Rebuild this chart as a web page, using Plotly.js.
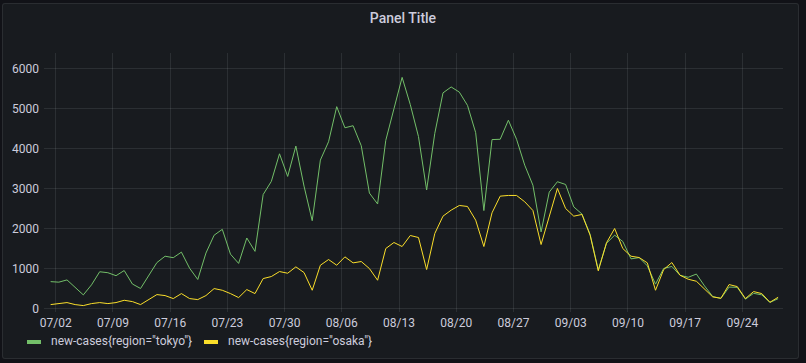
<!DOCTYPE html>
<html>
<head>
<meta charset="utf-8">
<script src="https://cdn.plot.ly/plotly-3.0.1.min.js"></script>
<style>
  html, body { margin: 0; padding: 0; background: #111217; width: 806px; height: 363px; overflow: hidden; }
  #panel { position: absolute; left: 2px; top: 3px; width: 795px; height: 354px; background: #181b1f;
           border: 1px solid rgba(204,204,220,0.10); border-radius: 3px; }
  #chart { position: absolute; left: 0; top: 0; width: 806px; height: 363px; }
</style>
</head>
<body>
<div id="panel"></div>
<div id="chart"></div>
<script>
// Data: daily new cases, 2021-07-01 .. 2021-09-28
const firstDay = [2021, 7, 1];
const tokyoName = 'new-cases{region="tokyo"}';
const osakaName = 'new-cases{region="osaka"}';
const tokyo = [
  673,660,716,518,342,593,920,896,822,950,614,502,830,1149,1308,1271,1410,1008,727,1387,1832,1979,1359,1128,1763,1429,2848,3177,3865,3300,4058,
  3058,2195,3709,4166,5042,4515,4566,4066,2884,2612,4200,4989,5773,5094,4295,2962,4377,5386,5534,5405,5074,4392,2447,4220,4228,4704,4227,3581,3081,1915,2909,
  3168,3099,2539,2362,1853,968,1629,1834,1675,1242,1273,1067,611,1004,1052,831,782,862,566,302,253,537,531,235,382,343,154,248
];
const osaka = [
  100,125,150,100,75,125,150,125,150,208,175,100,225,350,325,250,375,250,225,325,500,458,375,275,475,375,750,800,925,883,1042,
  900,458,1083,1225,1083,1292,1142,1175,1000,708,1500,1650,1550,1825,1775,975,1875,2308,2458,2575,2550,2208,1550,2392,2808,2825,2825,2667,2450,1600,2333,
  3000,2500,2308,2350,1833,942,1642,2000,1500,1308,1275,1142,458,975,1150,833,733,683,500,292,258,600,550,250,425,375,158,283
];
const yTicks = [0, 1000, 2000, 3000, 4000, 5000, 6000];

function pad(n) { return (n < 10 ? '0' : '') + n; }
const dates = tokyo.map((_, i) => {
  const d = new Date(Date.UTC(firstDay[0], firstDay[1] - 1, firstDay[2] + i));
  return d.getUTCFullYear() + '-' + pad(d.getUTCMonth() + 1) + '-' + pad(d.getUTCDate()) + ' 09:00';
});

const GREEN = '#73bf69';
const YELLOW = '#fade2a';
const TEXT = '#ccccdc';
const GRID = 'rgba(240,250,255,0.09)';
const FONT = 'Roboto, "Open Sans", sans-serif';

const traces = [
  { x: dates, y: tokyo, name: tokyoName, type: 'scatter', mode: 'lines',
    line: { color: GREEN, width: 1 }, hoverinfo: 'skip' },
  { x: dates, y: osaka, name: osakaName, type: 'scatter', mode: 'lines',
    line: { color: YELLOW, width: 1 }, hoverinfo: 'skip' }
];

// plot area in pixels (for legend placement)
const L = 44, R = 23, T = 53, B = 51, W = 806, H = 363;
const pw = W - L - R, ph = H - T - B;
const px = v => (v - L) / pw;
const py = v => (H - B - v) / ph;
const legY = 341;
const legend = [
  { name: tokyoName, color: GREEN, sx: 27, tx: 49 },
  { name: osakaName, color: YELLOW, sx: 204, tx: 226 }
];
const shapes = legend.map(l => ({
  type: 'rect', xref: 'paper', yref: 'paper',
  x0: px(l.sx), x1: px(l.sx + 14), y0: py(legY + 3), y1: py(legY - 1),
  fillcolor: l.color, line: { width: 0 }
}));
const annotations = legend.map(l => ({
  xref: 'paper', yref: 'paper', x: px(l.tx), y: py(legY),
  xanchor: 'left', yanchor: 'middle', showarrow: false,
  text: l.name, font: { family: FONT, size: 12, color: TEXT }
}));

const layout = {
  width: W, height: H,
  margin: { l: L, r: R, t: T, b: B, pad: 0 },
  paper_bgcolor: 'rgba(0,0,0,0)', plot_bgcolor: 'rgba(0,0,0,0)',
  showlegend: false,
  title: { text: 'Panel Title', x: 0.5, xanchor: 'center', y: 1 - 18 / H, yanchor: 'middle',
           xref: 'container', yref: 'container',
           font: { family: FONT, size: 14, color: TEXT, weight: 500 } },
  font: { family: FONT, size: 12, color: TEXT },
  xaxis: {
    type: 'date', range: ['2021-06-30 13:30', '2021-09-28 23:20'],
    tick0: '2021-07-02', dtick: 7 * 86400000, tickformat: '%m/%d',
    showgrid: true, gridcolor: GRID, gridwidth: 1, zeroline: false,
    showline: false, ticks: '', ticklabelstandoff: 2,
    tickfont: { family: FONT, size: 12, color: TEXT }, fixedrange: true
  },
  yaxis: {
    range: [-85, 6382], tickvals: yTicks, ticktext: yTicks.map(String),
    showgrid: true, gridcolor: GRID, gridwidth: 1, zeroline: false,
    showline: false, ticks: '', ticklabelstandoff: 4,
    tickfont: { family: FONT, size: 12, color: TEXT }, fixedrange: true
  },
  shapes: shapes,
  annotations: annotations
};

Plotly.newPlot('chart', traces, layout, { displayModeBar: false, staticPlot: true });
</script>
</body>
</html>
